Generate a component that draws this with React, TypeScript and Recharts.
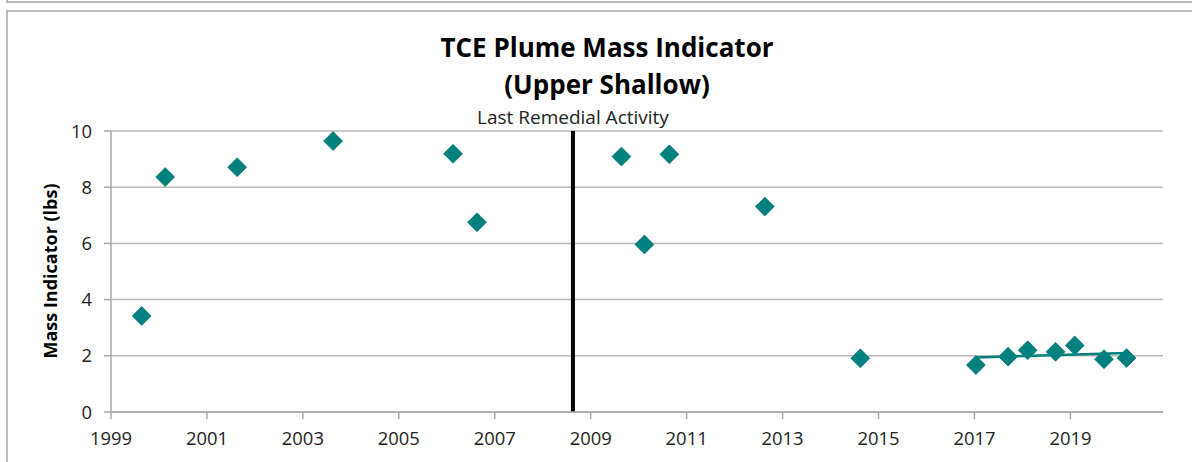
import React from "react";
import { ScatterChart, Scatter, XAxis, YAxis, CartesianGrid, ReferenceLine } from "recharts";

// sample dates (decimal years) and TCE mass indicator (lbs)
const sampleYears = [
  1999.64, 2000.13, 2001.63, 2003.63, 2006.13, 2006.63, 2009.64, 2010.12, 2010.64, 2012.63,
  2014.62, 2017.03, 2017.7, 2018.11, 2018.69, 2019.09, 2019.7, 2020.17,
];
const massLbs = [3.42, 8.36, 8.71, 9.64, 9.19, 6.75, 9.09, 5.96, 9.17, 7.31, 1.91, 1.67, 1.97, 2.2, 2.14, 2.37, 1.88, 1.92];

// linear trend line over the recent samples, end points
const trendYears = [2017.03, 2020.17];
const trendLbs = [1.94, 2.1];

const xTicks = [1999, 2001, 2003, 2005, 2007, 2009, 2011, 2013, 2015, 2017, 2019];
const yTicks = [0, 2, 4, 6, 8, 10];
const lastRemedialYear = 2008.63;

const points = sampleYears.map((year, i) => ({ year, mass: massLbs[i] }));
const trend = trendYears.map((year, i) => ({ year, mass: trendLbs[i] }));

const TEAL = "#00817e";
const FONT = "'Open Sans', sans-serif";

const Diamond = (props: any) => {
  const { cx, cy } = props;
  const r = 9.5;
  return (
    <polygon
      points={`${cx},${cy - r} ${cx + r},${cy} ${cx},${cy + r} ${cx - r},${cy}`}
      fill={TEAL}
      stroke="#006b68"
      strokeWidth={0.6}
    />
  );
};

export default function App() {
  return (
    <div
      style={{
        position: "absolute",
        left: 0,
        top: 0,
        width: 1192,
        height: 462,
        overflow: "hidden",
        background: "#fff",
        fontFamily: FONT,
      }}
    >
      <div style={{ position: "absolute", left: 6, top: 0, width: 1300, height: 1, borderBottom: "2px solid #b4b4b4", borderLeft: "2px solid #b4b4b4" }} />
      <div style={{ position: "absolute", left: 6, top: 10, width: 1300, height: 500, border: "2px solid #bcbcbc" }} />

      <div
        style={{
          position: "absolute",
          left: 0,
          width: 1214,
          top: 29,
          textAlign: "center",
          fontWeight: 700,
          fontSize: 26,
          lineHeight: "37px",
          color: "#000",
        }}
      >
        TCE Plume Mass Indicator
        <br />
        (Upper Shallow)
      </div>

      <div
        style={{
          position: "absolute",
          left: 50,
          top: 271,
          transform: "translate(-50%, -50%) rotate(-90deg)",
          whiteSpace: "nowrap",
          fontWeight: 700,
          fontSize: 18,
          color: "#000",
        }}
      >
        Mass Indicator (lbs)
      </div>

      <div style={{ position: "absolute", left: 0, top: 0 }}>
        <ScatterChart width={1192} height={462} margin={{ top: 131, right: 29, bottom: 20, left: 0 }}>
          <CartesianGrid horizontal vertical={false} stroke="#b8b8b8" strokeWidth={1.5} />
          <XAxis
            type="number"
            dataKey="year"
            domain={[1999, 2020.93]}
            ticks={xTicks}
            interval={0}
            height={30}
            tickSize={7}
            tickMargin={13}
            stroke="#a8a8a8"
            strokeWidth={1.5}
            tick={{ fill: "#222", fontSize: 18.4, fontFamily: FONT }}
            allowDataOverflow
          />
          <YAxis
            type="number"
            dataKey="mass"
            domain={[0, 10]}
            ticks={yTicks}
            interval={0}
            width={111}
            tickSize={7}
            tickMargin={12}
            stroke="#a8a8a8"
            strokeWidth={1.5}
            tick={{ fill: "#222", fontSize: 18.4, fontFamily: FONT }}
          />
          <ReferenceLine
            x={lastRemedialYear}
            stroke="#000"
            strokeWidth={4}
            label={{ value: "Last Remedial Activity", position: "top", offset: 7, fill: "#222", fontSize: 19, fontFamily: FONT }}
          />
          <Scatter data={points} shape={Diamond} isAnimationActive={false} />
          <Scatter
            data={trend}
            line={{ stroke: TEAL, strokeWidth: 2.5 }}
            shape={() => <g />}
            isAnimationActive={false}
          />
        </ScatterChart>
      </div>
    </div>
  );
}
